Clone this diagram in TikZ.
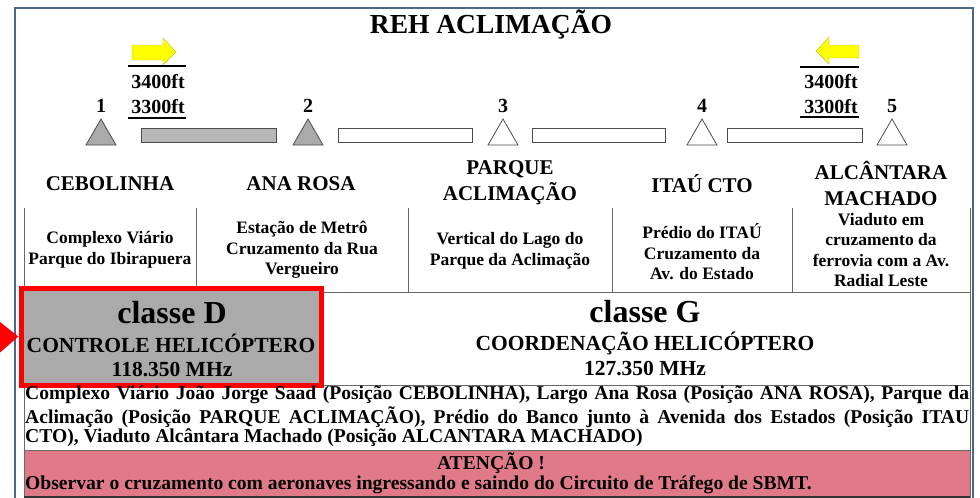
\documentclass[tikz,border=0pt]{standalone}
\usepackage{fontspec}
\setmainfont{Liberation Serif}
\usetikzlibrary{arrows.meta}

\definecolor{frameblue}{RGB}{74,104,140}
\definecolor{rulegray}{RGB}{105,105,105}
\definecolor{boxgray}{RGB}{170,170,170}
\definecolor{alertpink}{RGB}{224,122,136}
\definecolor{arrowyellow}{RGB}{255,255,0}

\begin{document}
\begin{tikzpicture}[x=1pt, y=-1pt,
	title/.style={font=\bfseries\fontsize{27.5}{30}\selectfont},
	alt/.style={font=\bfseries\fontsize{20}{22}\selectfont},
	num/.style={font=\bfseries\fontsize{20}{22}\selectfont},
	place/.style={font=\bfseries\fontsize{21}{26}\selectfont, align=center},
	cell/.style={font=\bfseries\fontsize{17.5}{20.5}\selectfont, align=center},
	clsbig/.style={font=\bfseries\fontsize{32}{34}\selectfont},
	clssub/.style={font=\bfseries\fontsize{21.5}{23}\selectfont},
	para/.style={font=\bfseries\fontsize{19.6}{21}\selectfont, anchor=west, inner sep=0pt},
	rule/.style={rulegray, line width=0.8pt}]
\useasboundingbox (0,0) rectangle (980,498);

% draw frame
	\draw[frameblue, line width=1.2pt] (15,498) -- (15,8) -- (973,8) -- (973,498);

% draw title
	\node[title] (reh) at (491,25) {REH ACLIMAÇÃO};

% draw direction arrows and altitudes
	\draw[fill=arrowyellow, draw=olive!60, line width=0.4pt] (132,45) -- (163,45) -- (163,38) -- (176,52) -- (163,65) -- (163,60) -- (132,60) -- cycle;
	\draw[fill=arrowyellow, draw=olive!60, line width=0.4pt] (859,45) -- (829,45) -- (829,37) -- (816,51) -- (829,64) -- (829,58) -- (859,58) -- cycle;
	\draw[line width=1.8pt] (128,66) -- (186,66);
	\draw[line width=1.8pt] (128,118) -- (186,118);
	\draw[line width=1.8pt] (800,67) -- (859,67);
	\draw[line width=1.8pt] (800,117) -- (859,117);
	\node[alt] (altA1) at (158,82) {3400ft};
	\node[alt] (altA2) at (158,107) {3300ft};
	\node[alt] (altB1) at (831,82) {3400ft};
	\node[alt] (altB2) at (831,107) {3300ft};

% draw points and legs
	\foreach \x/\n/\c in {101/1/boxgray, 308/2/boxgray, 503/3/white, 702/4/white, 892/5/white} {
		\node[num] (n\n) at (\x,106) {\n};
		\draw[fill=\c, draw=black!70, line width=0.8pt] (\x-15,145) -- (\x,119) -- (\x+15,145) -- cycle;
	}
	\draw[fill=boxgray!85, draw=black!70, line width=0.8pt] (141,128) rectangle (276,142);
	\foreach \a/\b in {338/472, 532/665, 727/862}
		\draw[fill=white, draw=black!70, line width=0.8pt] (\a,128) rectangle (\b,142);

% draw position names
	\node[place] (cebo) at (110,184) {CEBOLINHA};
	\node[place] (ana) at (301,184) {ANA ROSA};
	\node[place] (parq) at (510,183) {PARQUE\\ACLIMAÇÃO};
	\node[place] (itau) at (702,184) {ITAÚ CTO};
	\node[place] (alca) at (881,183) {ALCÂNTARA\\MACHADO};

% draw table lines
	\foreach \x in {196, 408, 612, 792}
		\draw[rule] (\x,208) -- (\x,292);
	\draw[rule] (24,208) -- (24,497);
	\draw[rule] (970,208) -- (970,497);
	\draw[rule] (24,292) -- (970,292);
	\draw[rule] (24,385) -- (970,385);

% draw table cells
	\node[cell] (c1) at (110,250) {Complexo Viário\\Parque do Ibirapuera};
	\node[cell] (c2) at (302,250) {Estação de Metrô\\Cruzamento da Rua\\Vergueiro};
	\node[cell] (c3) at (510,251) {Vertical do Lago do\\Parque da Aclimação};
	\node[cell] (c4) at (702,252) {Prédio do ITAÚ\\Cruzamento da\\Av. do Estado};
	\node[cell] (c5) at (881,250) {Viaduto em\\cruzamento da\\ferrovia com a Av.\\Radial Leste};

% draw airspace classes
	\node[draw=red, line width=5pt, fill=boxgray, minimum width=300pt, minimum height=97pt, inner sep=0pt] (dbox) at (171,336.5) {};
	\coordinate (redtail) at (-40,338);
	\draw[red, line width=6pt, -{Triangle[width=30pt,length=19pt]}] (redtail) -- (dbox.west);
	\node[clsbig] (clsD) at (172,313) {classe D};
	\node[clssub] (ctlD) at (171,343) {CONTROLE HELICÓPTERO};
	\node[clssub] (frqD) at (172,369) {118.350 MHz};
	\node[clsbig] (clsG) at (645,312) {classe G};
	\node[clssub] (ctlG) at (645,343) {COORDENAÇÃO HELICÓPTERO};
	\node[clssub] (frqG) at (645,368) {127.350 MHz};

% draw description
	\node[para] (d1) at (25,395) {\makebox[944pt][s]{Complexo Viário João Jorge Saad (Posição CEBOLINHA), Largo Ana Rosa (Posição ANA ROSA), Parque da}};
	\node[para] (d2) at (25,417) {\makebox[944pt][s]{Aclimação (Posição PARQUE ACLIMAÇÃO), Prédio do Banco junto à Avenida dos Estados (Posição ITAU}};
	\node[para] (d3) at (25,438) {CTO), Viaduto Alcântara Machado (Posição ALCANTARA MACHADO)};

% draw warning
	\draw[fill=alertpink, draw=rulegray, line width=0.8pt] (24,450) rectangle (970,497);
	\draw[black!80, line width=1.5pt] (24,497) -- (970,497);
	\node[para, anchor=center] (att) at (491,463) {ATENÇÃO !};
	\node[para] (obs) at (25,485) {Observar o cruzamento com aeronaves ingressando e saindo do Circuito de Tráfego de SBMT.};
\end{tikzpicture}
\end{document}
